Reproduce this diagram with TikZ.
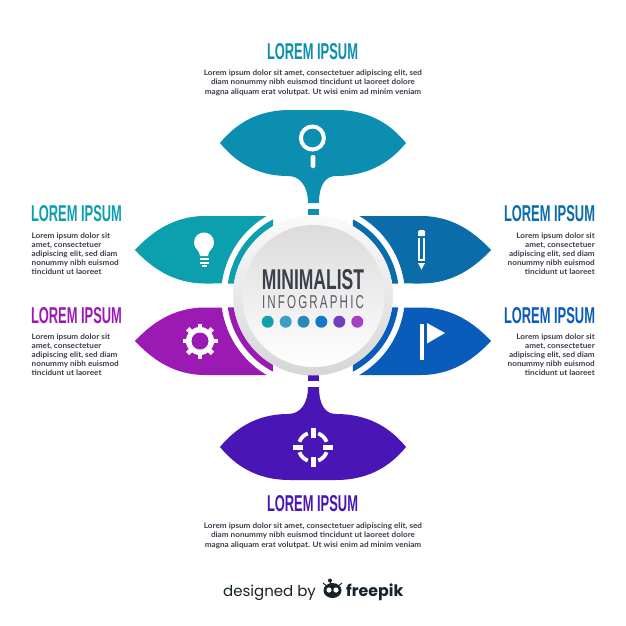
\documentclass[tikz,border=0pt]{standalone}
\usepackage{fontspec}
\usepackage{graphicx}
\setmainfont{Liberation Sans}
\newfontfamily\bodyf[FakeStretch=1.075]{Lato}
\newfontfamily\footf{Poppins}
\newfontfamily\infof[FakeStretch=0.75]{Liberation Sans}
\definecolor{cT}{HTML}{0B8EB0}
\definecolor{cLa}{HTML}{0CA0AE}
\definecolor{cLb}{HTML}{9C1AB4}
\definecolor{cRa}{HTML}{0A6CA8}
\definecolor{cRb}{HTML}{0A5CBA}
\definecolor{cB}{HTML}{4A15B5}
\definecolor{ink}{HTML}{3A3F4A}
\definecolor{logoc}{HTML}{16232B}
\newcommand{\ttl}[3]{\resizebox{#1pt}{#2pt}{\bfseries #3}}
\newcommand{\sideleaf}[1]{%
  \fill[#1] (135,250) .. controls (150,234) and (172,216) .. (205,216) -- (267,216)
    -- plot[domain=240:187.5,samples=40] ({313+92*cos(\x)},{295.5+92*sin(\x)})
    -- (205,283.5) .. controls (172,283.5) and (150,266) .. (135,250) -- cycle;
  \fill[#1] plot[domain=242.3:188,samples=40] ({313+86*cos(\x)},{295.5+86*sin(\x)})
    -- plot[domain=188.6:240,samples=40] ({313+80*cos(\x)},{295.5+80*sin(\x)}) -- cycle;
}
\newcommand{\stemleaf}[1]{%
  \fill[#1] (220,143) .. controls (234,126) and (255,110) .. (290,110) -- (336,110)
    .. controls (371,110) and (392,126) .. (406,143)
    .. controls (392,160) and (371,176) .. (336,176)
    .. controls (326,176) and (319,184) .. (319,203) -- (308,203)
    .. controls (308,186) and (300,176) .. (288,176)
    .. controls (255,176) and (234,160) .. (220,143) -- cycle;
  \fill[#1] (308,209) rectangle (319,215);
}
\tikzset{
  head/.style={inner sep=0pt,anchor=center},
  body/.style={inner sep=0pt,font=\bodyf\bfseries\fontsize{7.6}{9.1}\selectfont,text=ink},
  ico/.style={fill=white,draw=none},
  icol/.style={draw=white,line width=3pt}
}
\begin{document}
\begin{tikzpicture}[x=1pt,y=-1pt]
\useasboundingbox (0,0) rectangle (626,626);
\fill[white] (0,0) rectangle (626,626);
% leaves
\stemleaf{cT}
\begin{scope}[shift={(0,590)},yscale=-1]\stemleaf{cB}\end{scope}
\sideleaf{cLa}
\begin{scope}[shift={(0,591)},yscale=-1]\sideleaf{cLb}\end{scope}
\begin{scope}[shift={(626,0)},xscale=-1]\sideleaf{cRa}\end{scope}
\begin{scope}[shift={(626,591)},xscale=-1,yscale=-1]\sideleaf{cRb}\end{scope}
% disc
\shade[top color=white!98!black,bottom color=white!84!black] (313,295.5) circle[radius=80pt];
\shade[top color=white!86!black,bottom color=white] (313.5,296) circle[radius=71pt];
% centre text
\node[head,text=ink] (mini) at (313,280) {\ttl{102}{20}{MINIMALIST}};
\node[head,text=ink!85] (info) at (313,302.5) {\resizebox{102pt}{13pt}{\infof\addfontfeature{LetterSpace=14}INFOGRAPHIC}};
\foreach \px/\pc in {267.7/12A0AD,285.7/3A9FC2,303.5/2A88B8,321.3/1478C8,339.3/6F3FC0,357.3/A63FC4}{
  \definecolor{dotc}{HTML}{\pc}
  \fill[dotc] (\px,321.7) circle[radius=6pt];
}
% magnifier
\draw[icol,line width=4pt] (312.4,138) circle[radius=11.5pt];
\fill[ico,rounded corners=1.5pt] (310.6,155) rectangle (315.4,168);
% bulb
\fill[ico] (200,256) .. controls (200,250) and (194,249) .. (194,243)
  .. controls (194,229) and (214,229) .. (214,243)
  .. controls (214,249) and (208,250) .. (208,256) -- cycle;
\fill[ico] (199.5,258) rectangle (208.5,260);
\fill[ico] (199.5,261.5) rectangle (208.5,263.5);
\fill[ico] (201.5,265) rectangle (206.5,267);
% pencil
\fill[ico,rounded corners=1.5pt] (418,230) rectangle (425,236);
\fill[ico] (418,234) rectangle (425,236);
\fill[ico] (418,237.5) rectangle (420.4,261);
\fill[ico] (422.6,237.5) rectangle (425,261);
\fill[ico] (418,258.5) rectangle (425,261);
\fill[ico] (418,263) -- (425,263) -- (421.5,269.5) -- cycle;
% gear
\foreach \a in {0,45,...,315}{
  \draw[white,line width=4.6pt] (200,341) -- ({200+17.5*cos(\a)},{341+17.5*sin(\a)});
}
\fill[white] (200,341) circle[radius=14pt];
\fill[cLb] (200,341) circle[radius=8.5pt];
% flag
\fill[ico] (420,324) rectangle (424,360);
\fill[ico] (427,323) -- (445,333) -- (427,343.5) -- cycle;
% target
\fill[ico] (310.5,427.5) rectangle (315.5,437.5);
\fill[ico] (310.5,456.5) rectangle (315.5,466.5);
\fill[ico] (293,444.5) rectangle (303,449.5);
\fill[ico] (323,444.5) rectangle (333,449.5);
\foreach \a in {45,135,225,315}{
  \draw[white,line width=3.8pt] plot[domain=\a-24:\a+24,samples=10] ({313+14.5*cos(\x)},{447+14.5*sin(\x)});
}
% titles
\node[head,text=cT] (tT) at (312.5,51.5) {\ttl{91}{16}{LOREM IPSUM}};
\node[head,text=cB] (tB) at (312.5,504) {\ttl{91}{16}{LOREM IPSUM}};
\node[head,text=cLa] (tLa) at (76.5,213.5) {\ttl{91}{16}{LOREM IPSUM}};
\node[head,text=cLb] (tLb) at (76.5,315.5) {\ttl{91}{16}{LOREM IPSUM}};
\node[head,text=cRa] (tRa) at (549.5,213.5) {\ttl{91}{16}{LOREM IPSUM}};
\node[head,text=cRb] (tRb) at (549.5,315.5) {\ttl{91}{16}{LOREM IPSUM}};
% body
\node[body,align=center,anchor=north] (bT) at (313,70) {Lorem ipsum dolor sit amet, consectetuer adipiscing elit, sed\\diam nonummy nibh euismod tincidunt ut laoreet dolore\\magna aliquam erat volutpat. Ut wisi enim ad minim veniam};
\node[body,align=center,anchor=north] (bB) at (313,523) {Lorem ipsum dolor sit amet, consectetuer adipiscing elit, sed\\diam nonummy nibh euismod tincidunt ut laoreet dolore\\magna aliquam erat volutpat. Ut wisi enim ad minim veniam};
\node[body,align=left,anchor=north west] (bLa) at (31.5,232.5) {Lorem ipsum dolor sit\\amet, consectetuer\\adipiscing elit, sed diam\\nonummy nibh euismod\\tincidunt ut laoreet};
\node[body,align=left,anchor=north west] (bLb) at (31.5,333.5) {Lorem ipsum dolor sit\\amet, consectetuer\\adipiscing elit, sed diam\\nonummy nibh euismod\\tincidunt ut laoreet};
\node[body,align=right,anchor=north east] (bRa) at (595,232.5) {Lorem ipsum dolor sit\\amet, consectetuer\\adipiscing elit, sed diam\\nonummy nibh euismod\\tincidunt ut laoreet};
\node[body,align=right,anchor=north east] (bRb) at (595,333.5) {Lorem ipsum dolor sit\\amet, consectetuer\\adipiscing elit, sed diam\\nonummy nibh euismod\\tincidunt ut laoreet};
% footer
\node[inner sep=0pt,anchor=base west,text=logoc,font=\footf\fontsize{15}{18}\selectfont] (ft1) at (223,596.5) {designed by};
\node[inner sep=0pt,anchor=base west,text=logoc,font=\footf\bfseries\fontsize{15.8}{18}\selectfont] (ft2) at (346,596.5) {freepik};
\fill[logoc] (332.5,590.5) ellipse[x radius=9pt,y radius=7.5pt];
\fill[logoc] (330,580.5) circle[radius=2pt];
\draw[logoc,line width=1pt] (330,581) -- (331,584);
\draw[logoc,line width=1pt] (323,583) -- (326,585.5);
\draw[logoc,line width=1pt] (342,583) -- (339,585.5);
\fill[white] (329,590) circle[radius=2.6pt];
\fill[white] (336,590) circle[radius=2.6pt];
\end{tikzpicture}
\end{document}
